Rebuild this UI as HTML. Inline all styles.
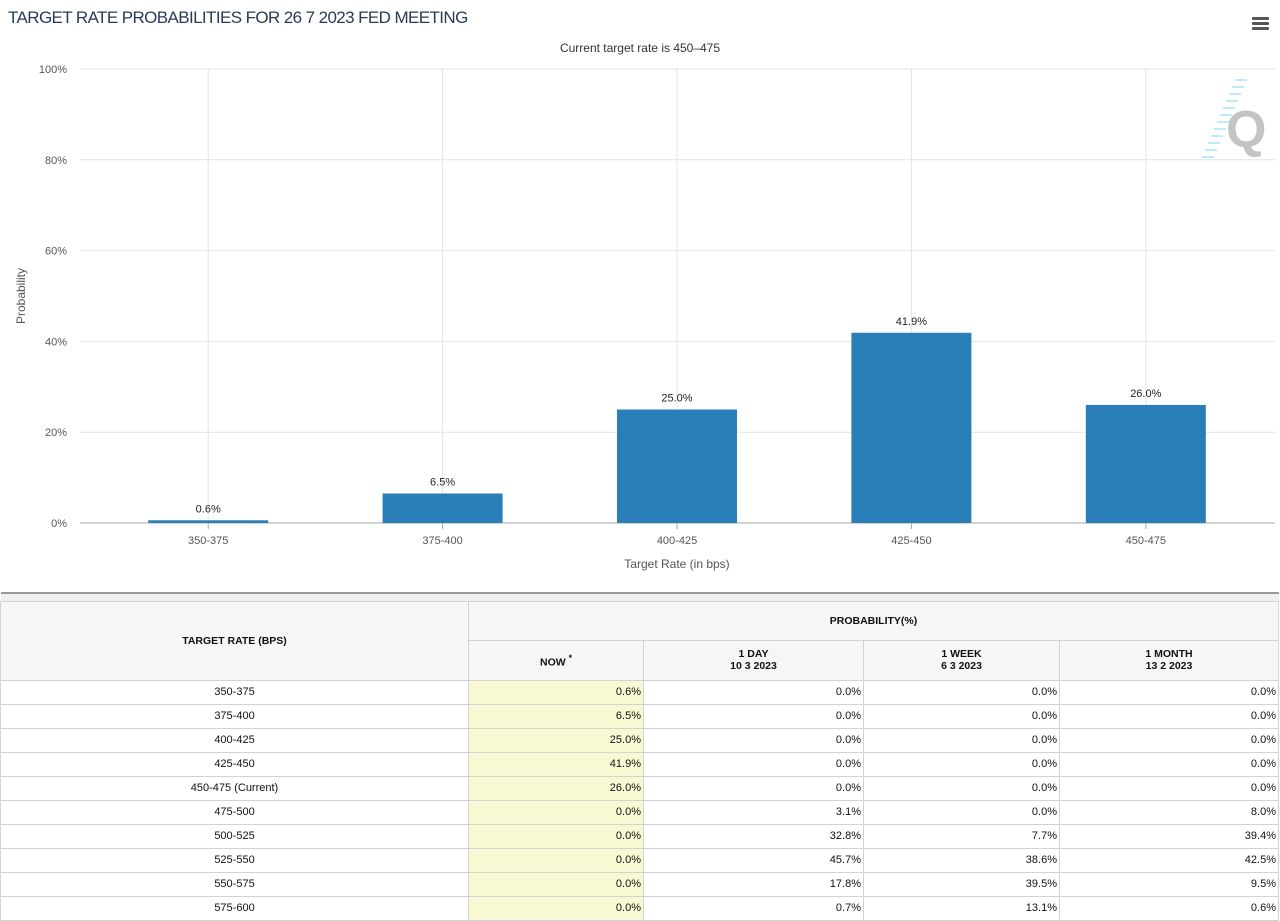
<!DOCTYPE html>
<html><head><meta charset="utf-8"><style>
body{margin:0;width:1280px;height:917px;overflow:hidden;background:#fff;font-family:"Liberation Sans",sans-serif;position:relative}
#title{position:absolute;left:8px;top:8px;font-size:17px;color:#2b3a55;letter-spacing:-0.6px}
#menu{position:absolute;left:1252px;top:17px;width:17px}
#menu div{height:3px;background:#555;margin-bottom:2px;border-radius:1px}
table{position:absolute;left:0;top:592px;width:1279px;border-collapse:collapse;table-layout:fixed;font-size:11px;color:#111;font-family:"Liberation Sans Narrow","Liberation Sans",sans-serif}
td,th{border:1px solid #d0d4d8;padding:0 2px;height:23px;line-height:12px}
th{background:#f6f6f6;font-weight:bold;font-size:10.5px}
td{text-align:right}
td.c{text-align:center}
td.y{background:#f8f8d2}
</style></head><body>
<div id="title">TARGET RATE PROBABILITIES FOR 26 7 2023 FED MEETING</div>
<div id="menu"><div></div><div></div><div></div></div>
<svg id="chart" width="1280" height="590" style="position:absolute;left:0;top:0"></svg>
<table>
<colgroup><col style="width:468px"><col style="width:175px"><col style="width:220px"><col style="width:196px"><col></colgroup>
<tr style="height:8px"><td colspan="5" style="height:6px;border:none;border-top:2px solid #999;background:#f0f0f0"></td></tr>
<tr><th rowspan="2">TARGET RATE (BPS)</th><th colspan="4" style="height:38px">PROBABILITY(%)</th></tr>
<tr style="height:40px"><th>NOW <sup>*</sup></th><th>1 DAY<br>10 3 2023</th><th>1 WEEK<br>6 3 2023</th><th>1 MONTH<br>13 2 2023</th></tr>
<tbody id="tb"></tbody>
</table>
<script>
const categories=["350-375","375-400","400-425","425-450","450-475"];
const values=[0.6,6.5,25.0,41.9,26.0];
const yTicks=[0,20,40,60,80,100];
const rowLabels=["350-375","375-400","400-425","425-450","450-475 (Current)","475-500","500-525","525-550","550-575","575-600"];
const nowVals=[0.6,6.5,25.0,41.9,26.0,0,0,0,0,0];
const dayVals=[0,0,0,0,0,3.1,32.8,45.7,17.8,0.7];
const weekVals=[0,0,0,0,0,0,7.7,38.6,39.5,13.1];
const monthVals=[0,0,0,0,0,8.0,39.4,42.5,9.5,0.6];

const NS="http://www.w3.org/2000/svg";
const svg=document.getElementById('chart');
const top0=69,bot=523,left=80,right=1275,x0=91,band=234.4;
const y=v=>bot-(v/100)*(bot-top0);
const xc=i=>x0+band*(i+0.5);
function mk(t,a,txt){const e=document.createElementNS(NS,t);for(const k in a)e.setAttribute(k,a[k]);if(txt!=null)e.textContent=txt;svg.appendChild(e);return e;}
yTicks.forEach(t=>{
 const l=mk('line',{x1:left,x2:right,y1:y(t),y2:y(t),stroke:t===0?'#aaa':'#e4e4e4','stroke-width':1});
 
 
 const tx=mk('text',{x:67,y:y(t)+4,'text-anchor':'end','font-size':11,fill:'#555'},t+'%');
 
 
});
categories.forEach((c,i)=>{
 const g=mk('line',{x1:xc(i),x2:xc(i),y1:top0,y2:bot,stroke:'#e4e4e4'});
 
 
 const tk=mk('line',{x1:xc(i),x2:xc(i),y1:bot,y2:bot+6,stroke:'#aaa'});
 
 
 const lb=mk('text',{x:xc(i),y:544,'text-anchor':'middle','font-size':11,fill:'#555'},c);
 
 
});
values.forEach((v,i)=>{
 const r=mk('rect',{x:xc(i)-60,y:y(v),width:120,height:bot-y(v),fill:'#2a7eb8'});
 
 
 const t=mk('text',{x:xc(i),y:y(v)-8,'text-anchor':'middle','font-size':11,fill:'#222'},v.toFixed(1)+'%');
 
 
});
const sub=mk('text',{x:640,y:52,'text-anchor':'middle','font-size':12,fill:'#333'},'Current target rate is 450–475');


const xt=mk('text',{x:677,y:568,'text-anchor':'middle','font-size':12,fill:'#555'},'Target Rate (in bps)');


const yt=mk('text',{x:25,y:296,'text-anchor':'middle','font-size':12,fill:'#555',transform:'rotate(-90 25 296)'},'Probability');


const q=mk('text',{x:1226,y:147,'font-size':52,fill:'#c4c4c4','font-weight':'bold'},'Q');


for(let k=0;k<12;k++){const ln=mk('line',{x1:1245-k*3-10,x2:1245-k*3+2,y1:80+k*7,y2:80+k*7,stroke:'#bfe8f8','stroke-width':2});}

const tb=document.getElementById('tb');
rowLabels.forEach((r,i)=>{
 const tr=document.createElement('tr');
 
 
 tr.innerHTML=`<td class="c">${r}</td><td class="y">${nowVals[i].toFixed(1)}%</td><td>${dayVals[i].toFixed(1)}%</td><td>${weekVals[i].toFixed(1)}%</td><td>${monthVals[i].toFixed(1)}%</td>`;
 tb.appendChild(tr);
});
</script>
</body></html>
